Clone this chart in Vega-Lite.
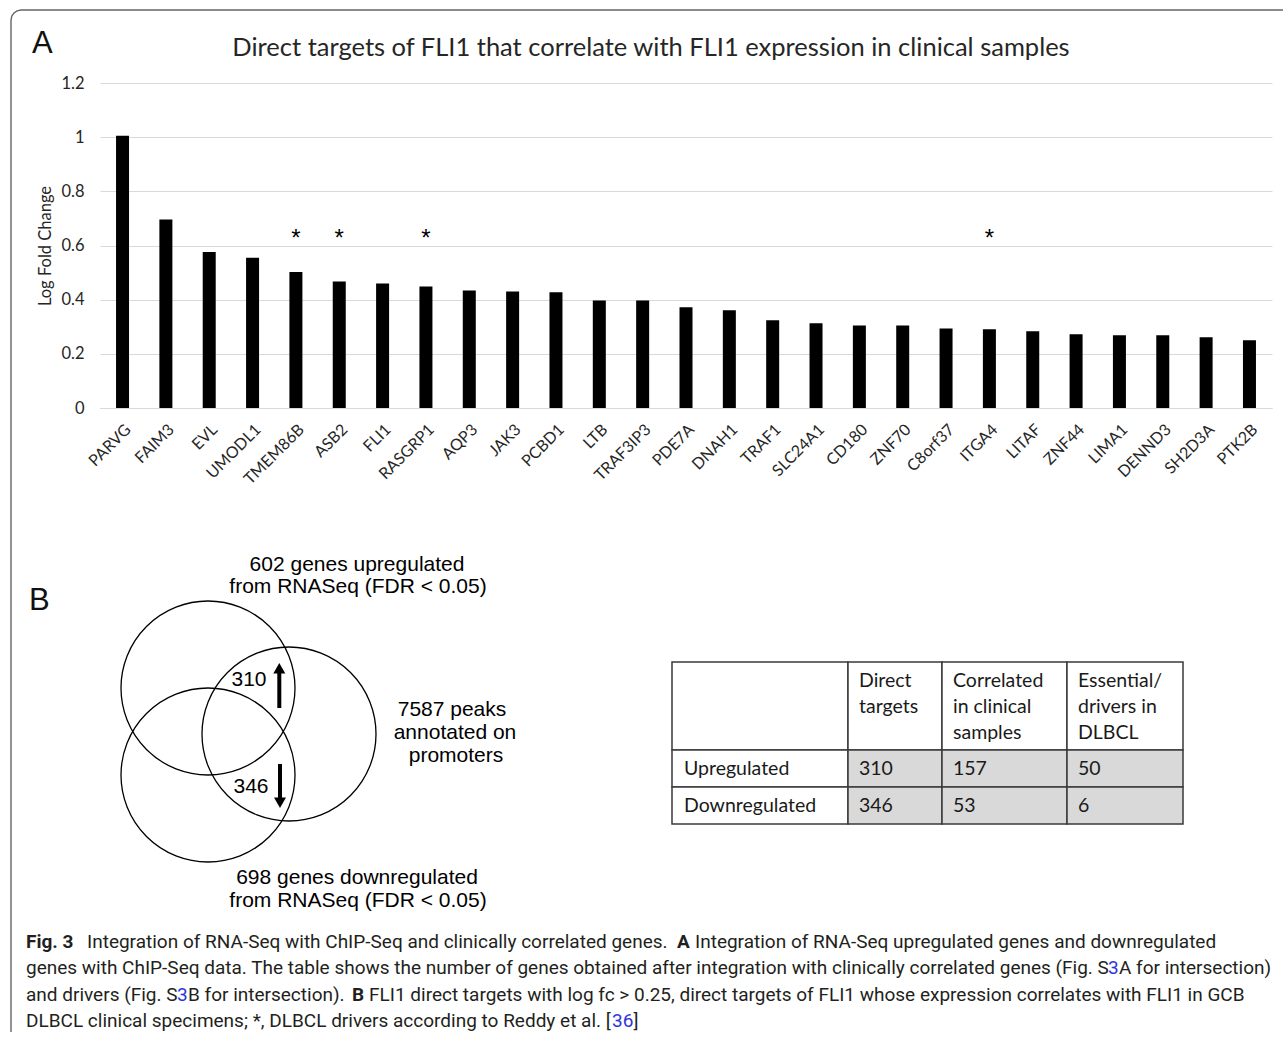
{
  "$schema": "https://vega.github.io/schema/vega-lite/v6.json",
  "padding": {"left": 8, "top": 7, "right": 0, "bottom": 0},
  "bounds": "flush",
  "spacing": 112,
  "config": {"view": {"stroke": null}},
  "datasets": {
    "genes": [
      {"gene": "PARVG", "logFC": 1.005, "driver": false},
      {"gene": "FAIM3", "logFC": 0.696, "driver": false},
      {"gene": "EVL", "logFC": 0.576, "driver": false},
      {"gene": "UMODL1", "logFC": 0.555, "driver": false},
      {"gene": "TMEM86B", "logFC": 0.502, "driver": true},
      {"gene": "ASB2", "logFC": 0.467, "driver": true},
      {"gene": "FLI1", "logFC": 0.46, "driver": false},
      {"gene": "RASGRP1", "logFC": 0.449, "driver": true},
      {"gene": "AQP3", "logFC": 0.434, "driver": false},
      {"gene": "JAK3", "logFC": 0.43, "driver": false},
      {"gene": "PCBD1", "logFC": 0.427, "driver": false},
      {"gene": "LTB", "logFC": 0.397, "driver": false},
      {"gene": "TRAF3IP3", "logFC": 0.397, "driver": false},
      {"gene": "PDE7A", "logFC": 0.372, "driver": false},
      {"gene": "DNAH1", "logFC": 0.361, "driver": false},
      {"gene": "TRAF1", "logFC": 0.324, "driver": false},
      {"gene": "SLC24A1", "logFC": 0.313, "driver": false},
      {"gene": "CD180", "logFC": 0.305, "driver": false},
      {"gene": "ZNF70", "logFC": 0.305, "driver": false},
      {"gene": "C8orf37", "logFC": 0.294, "driver": false},
      {"gene": "ITGA4", "logFC": 0.291, "driver": true},
      {"gene": "LITAF", "logFC": 0.283, "driver": false},
      {"gene": "ZNF44", "logFC": 0.272, "driver": false},
      {"gene": "LIMA1", "logFC": 0.269, "driver": false},
      {"gene": "DENND3", "logFC": 0.269, "driver": false},
      {"gene": "SH2D3A", "logFC": 0.261, "driver": false},
      {"gene": "PTK2B", "logFC": 0.25, "driver": false}
    ],
    "frame": [
      {"i": 0, "x": -89, "y": 512},
      {"i": 1, "x": -89, "y": -500},
      {"i": 2, "x": -88.2, "y": -504},
      {"i": 3, "x": -86, "y": -507.1},
      {"i": 4, "x": -82.9, "y": -509.2},
      {"i": 5, "x": -79, "y": -510},
      {"i": 6, "x": 1183, "y": -510}
    ],
    "panelLabels": [
      {"t": "A", "x": -68, "y": -467},
      {"t": "B", "x": -71, "y": 90}
    ],
    "vennSets": [
      {"set": "602 genes upregulated", "x": 108, "y": 168},
      {"set": "698 genes downregulated", "x": 108, "y": 255},
      {"set": "7587 peaks on promoters", "x": 189, "y": 214}
    ],
    "vennText": [
      {"t": "602 genes upregulated", "x": 257, "y": 45},
      {"t": "from RNASeq (FDR < 0.05)", "x": 258, "y": 67},
      {"t": "7587 peaks", "x": 352, "y": 190},
      {"t": "annotated on", "x": 355, "y": 213},
      {"t": "promoters", "x": 356, "y": 236},
      {"t": "698 genes downregulated", "x": 257, "y": 358},
      {"t": "from RNASeq (FDR < 0.05)", "x": 258, "y": 381},
      {"t": "310", "x": 149, "y": 160},
      {"t": "346", "x": 151, "y": 267}
    ],
    "arrowShafts": [
      {"dir": "up", "x": 179.3, "y": 188, "y2": 152},
      {"dir": "down", "x": 180, "y": 244, "y2": 279}
    ],
    "arrowHeads": [
      {"dir": "up", "x": 179.3, "y": 148.2},
      {"dir": "down", "x": 180, "y": 282.8}
    ],
    "tableCells": [
      {"kind": "corner", "x0": 572, "x1": 748, "y0": 142, "y1": 230},
      {"kind": "header", "x0": 748, "x1": 842, "y0": 142, "y1": 230},
      {"kind": "header", "x0": 842, "x1": 967, "y0": 142, "y1": 230},
      {"kind": "header", "x0": 967, "x1": 1083, "y0": 142, "y1": 230},
      {"kind": "rowlabel", "x0": 572, "x1": 748, "y0": 230, "y1": 267},
      {"kind": "value", "x0": 748, "x1": 842, "y0": 230, "y1": 267},
      {"kind": "value", "x0": 842, "x1": 967, "y0": 230, "y1": 267},
      {"kind": "value", "x0": 967, "x1": 1083, "y0": 230, "y1": 267},
      {"kind": "rowlabel", "x0": 572, "x1": 748, "y0": 267, "y1": 304},
      {"kind": "value", "x0": 748, "x1": 842, "y0": 267, "y1": 304},
      {"kind": "value", "x0": 842, "x1": 967, "y0": 267, "y1": 304},
      {"kind": "value", "x0": 967, "x1": 1083, "y0": 267, "y1": 304}
    ],
    "tableText": [
      {"t": "Direct", "x": 759, "y": 161},
      {"t": "targets", "x": 759, "y": 187},
      {"t": "Correlated", "x": 853, "y": 161},
      {"t": "in clinical", "x": 853, "y": 187},
      {"t": "samples", "x": 853, "y": 213},
      {"t": "Essential/", "x": 978, "y": 161},
      {"t": "drivers in", "x": 978, "y": 187},
      {"t": "DLBCL", "x": 978, "y": 213},
      {"t": "Upregulated", "x": 584, "y": 249},
      {"t": "310", "x": 759, "y": 249},
      {"t": "157", "x": 853, "y": 249},
      {"t": "50", "x": 978, "y": 249},
      {"t": "Downregulated", "x": 584, "y": 286},
      {"t": "346", "x": 759, "y": 286},
      {"t": "53", "x": 853, "y": 286},
      {"t": "6", "x": 978, "y": 286}
    ],
    "caption": [
      {"kind": "bold", "t": "Fig. 3", "x": -74, "y": 428},
      {"kind": "plain", "t": "Integration of RNA-Seq with ChIP-Seq and clinically correlated genes.", "x": -13, "y": 428},
      {"kind": "bold", "t": "A", "x": 577, "y": 428},
      {"kind": "plain", "t": "Integration of RNA-Seq upregulated genes and downregulated", "x": 595, "y": 428},
      {"kind": "plain", "t": "genes with ChIP-Seq data. The table shows the number of genes obtained after integration with clinically correlated genes (Fig. S", "x": -74, "y": 454},
      {"kind": "link", "t": "3", "x": 1008, "y": 454},
      {"kind": "plain", "t": "A for intersection)", "x": 1019, "y": 454},
      {"kind": "plain", "t": "and drivers (Fig. S", "x": -74, "y": 481},
      {"kind": "link", "t": "3", "x": 77, "y": 481},
      {"kind": "plain", "t": "B for intersection).", "x": 88, "y": 481},
      {"kind": "bold", "t": "B", "x": 252, "y": 481},
      {"kind": "plain", "t": "FLI1 direct targets with log fc > 0.25, direct targets of FLI1 whose expression correlates with FLI1 in GCB", "x": 269, "y": 481},
      {"kind": "plain", "t": "DLBCL clinical specimens; *, DLBCL drivers according to Reddy et al. [", "x": -74, "y": 507},
      {"kind": "link", "t": "36", "x": 512, "y": 507},
      {"kind": "plain", "t": "]", "x": 533.5, "y": 507}
    ]
  },
  "vconcat": [
    {
      "width": 1172,
      "height": 325,
      "title": {
        "text": "Direct targets of FLI1 that correlate with FLI1 expression in clinical samples",
        "font": "Lato", "fontSize": 25.5, "fontWeight": "normal", "color": "#262626",
        "anchor": "middle", "offset": 14, "dx": -35
      },
      "data": {"name": "genes"},
      "encoding": {
        "x": {
          "field": "gene", "type": "nominal", "sort": null,
          "scale": {"paddingInner": 0.7, "paddingOuter": 0.37},
          "axis": {
            "title": null, "labelAngle": -45, "labelFont": "Lato", "labelFontSize": 16,
            "labelColor": "#262626", "ticks": false, "domainColor": "#d9d9d9", "labelPadding": 13
          }
        }
      },
      "layer": [
        {
          "mark": {"type": "bar", "color": "#000000"},
          "encoding": {
            "y": {
              "field": "logFC", "type": "quantitative",
              "scale": {"domain": [0, 1.2], "nice": false},
              "axis": {
                "values": [0, 0.2, 0.4, 0.6, 0.8, 1, 1.2], "format": "~g",
                "grid": true, "gridColor": "#d9d9d9", "domain": false, "ticks": false,
                "labelFont": "Lato", "labelFontSize": 16.5, "labelColor": "#262626", "labelPadding": 16,
                "title": "Log Fold Change", "titleFont": "Lato", "titleFontSize": 16.5,
                "titleFontWeight": "normal", "titleColor": "#262626", "titlePadding": 7
              }
            }
          }
        },
        {
          "mark": {"type": "text", "font": "Liberation Sans", "fontSize": 24, "baseline": "alphabetic", "color": "#000000"},
          "encoding": {
            "y": {"datum": 0.6, "type": "quantitative"},
            "text": {"condition": {"test": "datum.driver", "value": "*"}, "value": ""}
          }
        }
      ]
    },
    {
      "width": 1172,
      "height": 510,
      "encoding": {
        "x": {"field": "x", "type": "quantitative", "scale": {"domain": [0, 1172], "nice": false, "zero": false}, "axis": null},
        "y": {"field": "y", "type": "quantitative", "scale": {"domain": [0, 510], "nice": false, "zero": false, "reverse": true}, "axis": null}
      },
      "layer": [
        {
          "data": {"name": "frame"},
          "mark": {"type": "line", "color": "#666666", "strokeWidth": 1.4},
          "encoding": {"order": {"field": "i", "type": "quantitative"}}
        },
        {
          "data": {"name": "panelLabels"},
          "mark": {"type": "text", "font": "Liberation Sans", "fontSize": 31, "align": "left", "baseline": "alphabetic", "color": "#111111"},
          "encoding": {"text": {"field": "t"}}
        },
        {
          "data": {"name": "vennSets"},
          "mark": {"type": "point", "shape": "circle", "size": 30276, "filled": false, "color": "#000000", "strokeWidth": 1.3, "opacity": 1}
        },
        {
          "data": {"name": "vennText"},
          "mark": {"type": "text", "font": "Liberation Sans", "fontSize": 21, "align": "center", "baseline": "middle", "color": "#000000"},
          "encoding": {"text": {"field": "t"}}
        },
        {
          "data": {"name": "arrowShafts"},
          "mark": {"type": "rule", "color": "#000000", "strokeWidth": 4},
          "encoding": {"y2": {"field": "y2"}}
        },
        {
          "data": {"name": "arrowHeads"},
          "mark": {"type": "point", "filled": true, "color": "#000000", "size": 144, "opacity": 1},
          "encoding": {
            "shape": {"field": "dir", "type": "nominal", "scale": {"domain": ["up", "down"], "range": ["triangle-up", "triangle-down"]}, "legend": null}
          }
        },
        {
          "data": {"name": "tableCells"},
          "mark": {"type": "rect", "stroke": "#3a3a3a", "strokeWidth": 1.5},
          "encoding": {
            "x": {"field": "x0", "type": "quantitative"},
            "x2": {"field": "x1"},
            "y": {"field": "y0", "type": "quantitative"},
            "y2": {"field": "y1"},
            "fill": {"field": "kind", "type": "nominal", "scale": {"domain": ["corner", "header", "rowlabel", "value"], "range": ["#ffffff", "#ffffff", "#ffffff", "#d9d9d9"]}, "legend": null}
          }
        },
        {
          "data": {"name": "tableText"},
          "mark": {"type": "text", "font": "Lato", "fontSize": 19.5, "align": "left", "baseline": "middle", "color": "#1a1a1a"},
          "encoding": {"text": {"field": "t"}}
        },
        {
          "data": {"name": "caption"},
          "transform": [{"filter": "datum.kind == 'plain'"}],
          "mark": {"type": "text", "font": "Roboto", "fontSize": 19, "align": "left", "baseline": "alphabetic", "color": "#231f20"},
          "encoding": {"text": {"field": "t"}}
        },
        {
          "data": {"name": "caption"},
          "transform": [{"filter": "datum.kind == 'bold'"}],
          "mark": {"type": "text", "font": "Roboto", "fontSize": 19, "fontWeight": "bold", "align": "left", "baseline": "alphabetic", "color": "#231f20"},
          "encoding": {"text": {"field": "t"}}
        },
        {
          "data": {"name": "caption"},
          "transform": [{"filter": "datum.kind == 'link'"}],
          "mark": {"type": "text", "font": "Roboto", "fontSize": 19, "align": "left", "baseline": "alphabetic", "color": "#2b35e0"},
          "encoding": {"text": {"field": "t"}}
        }
      ]
    }
  ]
}
